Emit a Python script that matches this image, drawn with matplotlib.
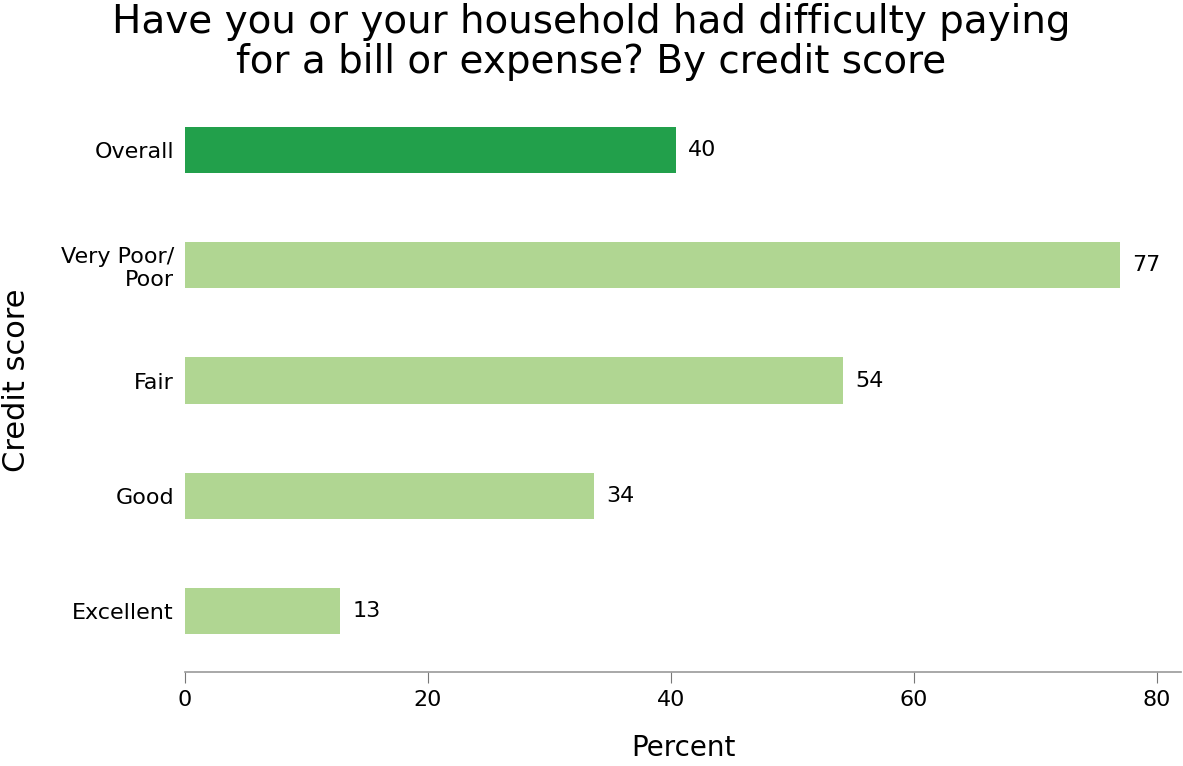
import matplotlib.pyplot as plt

categories = ["Overall", "Very Poor/\nPoor", "Fair", "Good", "Excellent"]
values = [40.4, 77.0, 54.2, 33.7, 12.8]
bar_colors = ["#22a04b", "#b0d692", "#b0d692", "#b0d692", "#b0d692"]
xticks = [0, 20, 40, 60, 80]

fig = plt.figure(figsize=(11.83, 7.66), dpi=100)
ax = fig.add_axes([185 / 1183, 1 - 672 / 766, (1181 - 185) / 1183, (672 - 89) / 766])

y = list(range(len(categories)))
ax.barh(y, values, height=0.4, color=bar_colors)
for yi, v in zip(y, values):
    ax.text(v + 1.0, yi, f"{v:.0f}", va="center", ha="left", fontsize=16, color="black")

ax.set_ylim(len(categories) - 1 + 0.53, -0.53)
ax.set_xlim(0, 82)
ax.set_yticks(y)
ax.set_yticklabels(categories, fontsize=16)
ax.set_xticks(xticks)
ax.set_xticklabels([str(t) for t in xticks], fontsize=16)
ax.tick_params(axis="y", length=0, pad=8)
ax.tick_params(axis="x", length=8, color="#777777", pad=5)

for side in ["left", "right", "top"]:
    ax.spines[side].set_visible(False)
ax.spines["bottom"].set_color("#999999")
ax.spines["bottom"].set_linewidth(1.2)

ax.set_xlabel("Percent", fontsize=20, labelpad=17)
ax.set_ylabel("Credit score", fontsize=22, labelpad=21)

fig.suptitle("Have you or your household had difficulty paying\nfor a bill or expense? By credit score",
             fontsize=28, x=591 / 1183, y=0.996, va="top", linespacing=1.07)

fig.savefig("out.png", dpi=100)
